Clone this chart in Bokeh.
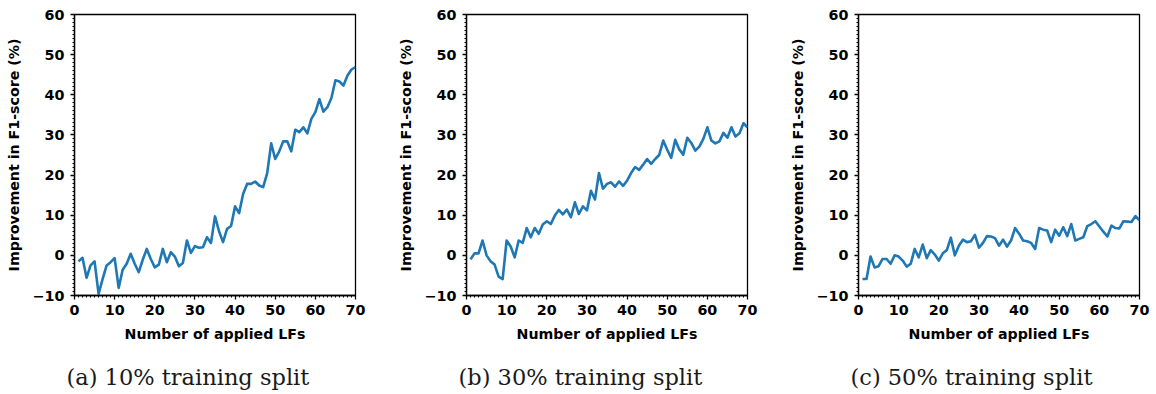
from bokeh.plotting import figure
from bokeh.layouts import row
from bokeh.models import Range1d, FixedTicker, CustomJSTickFormatter, Title
from bokeh.embed import file_html
from bokeh.resources import INLINE

# ---- data -------------------------------------------------------------
n_lfs = list(range(1, 71))

improvement_10 = [
    -1.5, -0.6, -5.6, -2.5, -1.5, -9.6, -5.9, -2.5, -1.7, -0.7,
    -8.1, -3.6, -2.1, 0.4, -2.1, -4.2, -1.1, 1.6, -0.9, -3.0,
    -2.3, 1.6, -1.7, 0.8, -0.3, -2.7, -1.9, 3.7, 0.6, 2.3,
    1.9, 2.0, 4.5, 3.1, 9.7, 6.0, 3.3, 6.6, 7.3, 12.2,
    10.5, 15.3, 17.8, 17.8, 18.4, 17.4, 17.0, 20.5, 27.9, 24.0,
    25.9, 28.4, 28.4, 25.9, 31.3, 30.7, 31.9, 30.4, 34.0, 35.7,
    38.9, 35.8, 36.9, 39.2, 43.6, 43.3, 42.3, 44.8, 46.3, 46.9,
]

improvement_30 = [
    -1.0, 0.5, 0.5, 3.7, 0.0, -1.5, -2.3, -5.3, -5.9, 3.7,
    2.2, -0.5, 3.7, 3.1, 6.8, 4.5, 6.8, 5.4, 7.7, 8.5,
    7.8, 9.9, 11.3, 10.2, 11.4, 9.5, 13.2, 10.3, 12.2, 11.2,
    16.1, 13.9, 20.5, 16.6, 17.8, 18.2, 17.1, 18.4, 17.3, 18.6,
    20.5, 22.0, 21.3, 22.6, 24.0, 22.8, 24.0, 25.0, 28.6, 26.3,
    24.3, 28.8, 26.4, 25.1, 29.3, 28.0, 26.1, 27.1, 29.0, 31.9,
    28.6, 27.9, 28.4, 30.5, 29.3, 31.9, 29.6, 30.4, 32.9, 31.9,
]

improvement_50 = [
    -5.9, -5.9, -0.3, -3.0, -2.7, -0.9, -0.9, -2.1, 0.0, -0.3,
    -1.3, -2.8, -2.1, 1.6, -0.5, 2.7, -0.7, 1.3, 0.2, -1.3,
    0.5, 1.3, 4.4, 0.0, 2.4, 3.9, 3.3, 3.5, 5.1, 1.9,
    3.1, 4.8, 4.7, 4.3, 2.4, 3.9, 2.2, 3.7, 6.8, 5.4,
    3.7, 3.5, 3.1, 1.6, 6.8, 6.4, 6.2, 3.3, 6.4, 4.9,
    7.0, 4.8, 7.8, 3.7, 4.1, 4.5, 7.3, 7.8, 8.5, 7.2,
    5.9, 4.7, 7.4, 6.8, 6.7, 8.5, 8.4, 8.3, 9.8, 8.7,
]

captions = ["(a) 10% training split", "(b) 30% training split", "(c) 50% training split"]
x_ticks = [0, 10, 20, 30, 40, 50, 60, 70]
y_ticks = [-10, 0, 10, 20, 30, 40, 50, 60]
x_label = "Number of applied LFs"
y_label = "Improvement in F1-score (%)"

# ---- plotting ---------------------------------------------------------
FONT = "DejaVu Sans"
minus_fmt = CustomJSTickFormatter(code="""
    return tick < 0 ? "\\u2212" + Math.abs(tick) : tick.toString();
""")


def make_panel(values, caption, right):
    p = figure(frame_width=281, frame_height=281,
               min_border_left=74, min_border_right=right,
               min_border_top=14, min_border_bottom=95,
               x_range=Range1d(0, 70), y_range=Range1d(-10, 60),
               output_backend="svg", toolbar_location=None,
               background_fill_color="white", border_fill_color="white")
    p.line(n_lfs, values, line_color="#1f77b4", line_width=2.6,
           line_join="round")
    p.xgrid.visible = False
    p.ygrid.visible = False
    p.outline_line_color = "black"
    p.outline_line_width = 1.3
    p.outline_line_alpha = 1.0

    p.xaxis.ticker = FixedTicker(ticks=x_ticks,
                                 minor_ticks=list(range(0, 71)))
    p.yaxis.ticker = FixedTicker(ticks=y_ticks,
                                 minor_ticks=list(range(-10, 61)))
    for ax in (p.xaxis[0], p.yaxis[0]):
        ax.formatter = minus_fmt
        ax.axis_line_color = "black"
        ax.axis_line_width = 1.3
        ax.major_tick_line_color = "black"
        ax.major_tick_line_width = 1.3
        ax.major_tick_out = 4
        ax.major_tick_in = 0
        ax.minor_tick_line_color = "black"
        ax.minor_tick_line_width = 1
        ax.minor_tick_out = 2
        ax.minor_tick_in = 0
        ax.major_label_text_font = FONT
        ax.major_label_text_font_style = "bold"
        ax.major_label_text_font_size = "14.3px"
        ax.major_label_text_color = "black"
        ax.axis_label_text_font = FONT
        ax.axis_label_text_font_style = "bold"
        ax.axis_label_text_font_size = "14.2px"
        ax.axis_label_text_color = "black"
    p.xaxis.axis_label = x_label
    p.yaxis.axis_label = y_label
    p.xaxis.major_label_standoff = 5
    p.yaxis.major_label_standoff = 6
    p.xaxis.axis_label_standoff = 8
    p.yaxis.axis_label_standoff = 8

    t = Title(text=caption, align="left", text_font="DejaVu Serif",
              text_font_size="22.5px", text_font_style="normal",
              text_color="#1a1a1a", standoff=34, offset=-8)
    p.add_layout(t, "below")
    return p


p1 = make_panel(improvement_10, captions[0], 37)
p2 = make_panel(improvement_30, captions[1], 37)
p3 = make_panel(improvement_50, captions[2], 15)

layout = row(p1, p2, p3, spacing=0)
open("out.html", "w").write(file_html(layout, INLINE))
